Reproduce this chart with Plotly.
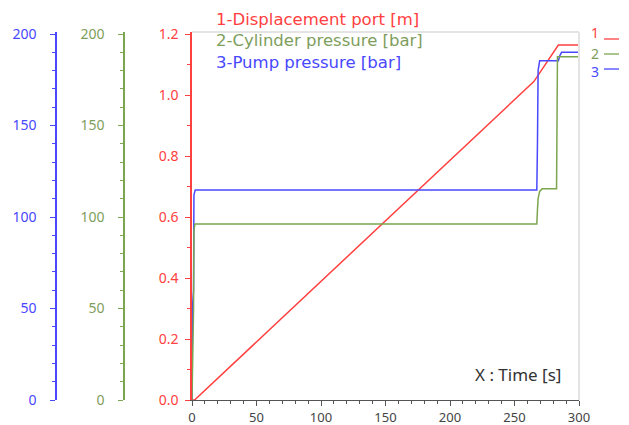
import plotly.graph_objects as go

# ---- data ----
t_disp = [0, 2, 265, 284, 300]
disp = [0.0, 0.0, 1.044, 1.164, 1.164]

t_cyl = [0, 1.2, 1.5, 2.3, 3, 267.3, 267.8, 268.3, 269.5, 271.5, 282.6, 283.3, 300]
cyl = [0, 50, 92.5, 96.2, 96.2, 96.2, 104, 110, 114, 115.5, 115.5, 187.6, 187.6]

t_pump = [0, 0.3, 1.2, 1.5, 2.5, 267.3, 267.8, 268.3, 269.5, 284, 285, 286.5, 300]
pump = [0, 50, 60, 112, 114.8, 114.8, 140, 180, 185.4, 185.4, 188, 190, 190]

x_ticks = [0, 50, 100, 150, 200, 250, 300]
y1_ticks = [0.0, 0.2, 0.4, 0.6, 0.8, 1.0, 1.2]
p_ticks = [0, 50, 100, 150, 200]

titles = ["1-Displacement port [m]", "2-Cylinder pressure [bar]", "3-Pump pressure [bar]"]
end_labels = ["1", "2", "3"]

RED = "#FF4040"
GREEN = "#7BA54E"
BLUE = "#4848FF"
GREEN_TXT = "#7E9E5C"

W, H = 629, 425
def px(x):
    return x / W
def py(y):
    return (H - y) / H

FONT = "Noto Sans"
TFONT = "DejaVu Sans"

fig = go.Figure()
fig.add_trace(go.Scatter(x=t_disp, y=disp, mode="lines", line=dict(color=RED, width=1.5), yaxis="y"))
fig.add_trace(go.Scatter(x=t_cyl, y=cyl, mode="lines", line=dict(color=GREEN, width=1.5), yaxis="y3"))
fig.add_trace(go.Scatter(x=t_pump, y=pump, mode="lines", line=dict(color=BLUE, width=1.5), yaxis="y2"))

x0, x1 = px(192), px(579)
y0, y1 = py(400), py(32)
ext = 368 / 366

fig.update_layout(
    width=W, height=H,
    margin=dict(l=0, r=0, t=0, b=0, autoexpand=False),
    paper_bgcolor="white", plot_bgcolor="white",
    showlegend=False,
    font=dict(family=FONT, size=14),
    xaxis=dict(domain=[x0, x1], range=[0, 300], tickvals=x_ticks, automargin=False,
               ticks="outside", ticklen=5, tickcolor="#555", showline=True,
               linecolor="#555", linewidth=1, showgrid=False, zeroline=False,
               ticklabelstandoff=0,
               tickfont=dict(color="#444", size=13, family=FONT),
               minor=dict(dtick=10, ticks="outside", ticklen=3, tickcolor="#555")),
    yaxis=dict(domain=[y0, y1], range=[0, 1.2 * ext], tickvals=y1_ticks, automargin=False,
               tickformat=".1f", ticks="outside", ticklen=5, tickcolor=RED,
               showline=True, linecolor=RED, linewidth=1.5, showgrid=False,
               zeroline=False, ticklabelstandoff=4,
               tickfont=dict(color=RED, size=14, family=FONT),
               minor=dict(dtick=0.1, ticks="outside", ticklen=3, tickcolor=RED)),
    yaxis2=dict(overlaying="y", anchor="free", position=px(56), side="left", automargin=False,
                range=[0, 200 * ext], tickvals=p_ticks, ticks="outside", ticklen=5,
                tickcolor=BLUE, showline=True, linecolor=BLUE, linewidth=1.5,
                showgrid=False, zeroline=False, ticklabelstandoff=11,
                tickfont=dict(color=BLUE, size=14, family=FONT),
                minor=dict(dtick=10, ticks="outside", ticklen=3, tickcolor=BLUE)),
    yaxis3=dict(overlaying="y", anchor="free", position=px(124), side="left", automargin=False,
                range=[0, 200 * ext], tickvals=p_ticks, ticks="outside", ticklen=5,
                tickcolor=GREEN, showline=True, linecolor=GREEN, linewidth=1.5,
                showgrid=False, zeroline=False, ticklabelstandoff=11,
                tickfont=dict(color=GREEN_TXT, size=14, family=FONT),
                minor=dict(dtick=10, ticks="outside", ticklen=3, tickcolor=GREEN)),
)

# frame (top and right)
fig.add_shape(type="line", xref="paper", yref="paper", x0=x0, x1=x1, y0=y1, y1=y1,
              line=dict(color="#E4E4E4", width=2))
fig.add_shape(type="line", xref="paper", yref="paper", x0=x1, x1=x1, y0=y0, y1=y1,
              line=dict(color="#E4E4E4", width=2))

# series titles
title_colors = [RED, GREEN_TXT, BLUE]
title_y = [19.5, 40.5, 63]
for txt, c, yy in zip(titles, title_colors, title_y):
    fig.add_annotation(text=txt, xref="paper", yref="paper", x=px(214), y=py(yy),
                       xanchor="left", yanchor="middle", showarrow=False,
                       font=dict(color=c, size=16.5, family=TFONT))

# end labels with short line samples
end_y = [32.5, 53, 71.5]
line_y = [39, 54, 69]
line_colors = [RED, GREEN, BLUE]
for txt, c, lc, yy, ly in zip(end_labels, title_colors, line_colors, end_y, line_y):
    fig.add_annotation(text=txt, xref="paper", yref="paper", x=px(595), y=py(yy),
                       xanchor="center", yanchor="middle", showarrow=False,
                       font=dict(color=c, size=14, family=FONT))
    fig.add_shape(type="line", xref="paper", yref="paper", x0=px(604), x1=px(619),
                  y0=py(ly), y1=py(ly), line=dict(color=lc, width=1.3))

fig.add_annotation(text="X : Time [s]", xref="paper", yref="paper", x=px(563), y=py(374),
                   xanchor="right", yanchor="middle", showarrow=False,
                   font=dict(color="#333", size=17, family=FONT))

fig.write_html("out.html")
